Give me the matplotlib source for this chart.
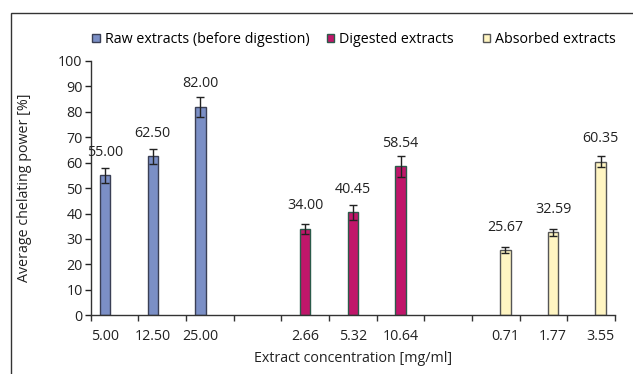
import matplotlib
matplotlib.use("Agg")
import matplotlib.pyplot as plt
import numpy as np
from matplotlib.patches import Rectangle

plt.rcParams["font.family"] = ["Open Sans", "DejaVu Sans"]

# data
raw_labels = ["5.00", "12.50", "25.00"]
raw_values = [55.00, 62.50, 82.00]
raw_errors = [2.8, 3.0, 4.0]

dig_labels = ["2.66", "5.32", "10.64"]
dig_values = [34.00, 40.45, 58.54]
dig_errors = [2.0, 2.9, 4.1]

abs_labels = ["0.71", "1.77", "3.55"]
abs_values = [25.67, 32.59, 60.35]
abs_errors = [1.0, 1.3, 2.2]

series_names = ["Raw extracts (before digestion)", "Digested extracts", "Absorbed extracts"]

COLORS = ["#7B8FC6", "#C0166A", "#FFF5C2"]
EDGES = ["#3A3F55", "#2B5B4A", "#555555"]
LEGEND_X = [0.146, 0.516, 0.763]
FS = 10.3

fig = plt.figure(figsize=(6.33, 3.74), dpi=100)
ax = fig.add_axes([0.1435, 0.157, 0.828, 0.68])

# outer frame (left and top edges visible)
fig.patches.append(Rectangle((0.017, -0.1), 1.2, 1.066, transform=fig.transFigure,
                             fill=False, edgecolor="#333333", linewidth=1.0))

width = 0.22
step = 0.2
groups = [
    (0, raw_labels, raw_values, raw_errors),
    (1, dig_labels, dig_values, dig_errors),
    (2, abs_labels, abs_values, abs_errors),
]
tick_pos, tick_lab = [], []
for s, labels, values, errs in groups:
    cats = np.arange(3) + 4 * s
    x = cats + 0.5 + (s - 1) * step
    b = ax.bar(x, values, width=width, color=COLORS[s], edgecolor=EDGES[s],
               linewidth=1.0, yerr=errs, capsize=3,
               error_kw=dict(ecolor="#222222", elinewidth=1.0, capthick=1.0),
               label=series_names[s])
    for xi, v in zip(x, values):
        ax.text(xi, v + 9, f"{v:.2f}", ha="center", va="center",
                fontsize=FS, color="#222222")
    tick_pos.extend(x)
    tick_lab.extend(labels)
    leg = fig.legend(handles=[b], loc="center left", bbox_to_anchor=(LEGEND_X[s], 0.895),
                     frameon=False, fontsize=FS, handlelength=0.5, handleheight=0.5,
                     handletextpad=0.35, borderaxespad=0, borderpad=0)
    for h in leg.legend_handles:
        h.set_linewidth(1.0)

ax.set_xlim(0, 11)
ax.set_ylim(0, 100)
ax.set_yticks(range(0, 101, 10))
ax.set_xticks(range(0, 12), minor=True)
ax.set_xticks(tick_pos)
ax.set_xticklabels(tick_lab)
ax.tick_params(axis="x", which="major", length=0, pad=10, labelsize=FS, colors="#222222")
ax.tick_params(axis="x", which="minor", length=4, width=1, color="#333333")
ax.tick_params(axis="y", length=4, width=1, labelsize=FS, pad=2, colors="#222222")
for side in ["top", "right"]:
    ax.spines[side].set_visible(False)
for side in ["left", "bottom"]:
    ax.spines[side].set_color("#333333")
    ax.spines[side].set_linewidth(1.0)

ax.set_ylabel("Average chelating power [%]", fontsize=FS, color="#222222", labelpad=19)
ax.set_xlabel("Extract concentration [mg/ml]", fontsize=FS, color="#222222", labelpad=5)

fig.savefig("out.png", dpi=100)
